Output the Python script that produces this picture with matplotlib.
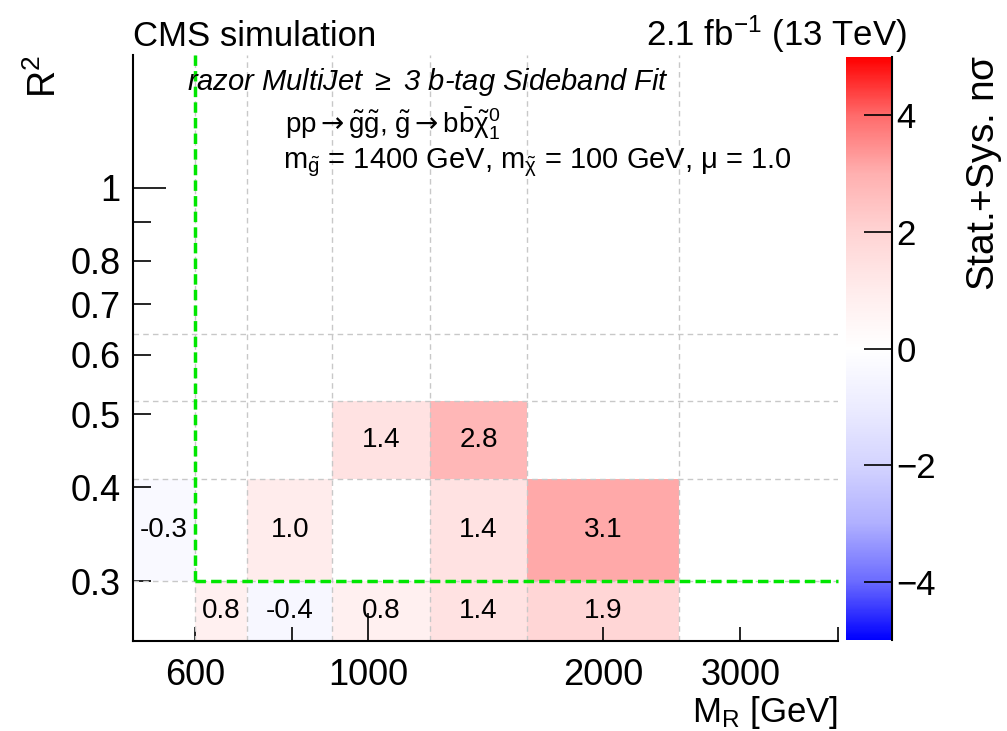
import numpy as np
import matplotlib
matplotlib.use("Agg")
import matplotlib.pyplot as plt
from matplotlib.colors import LinearSegmentedColormap, Normalize
from matplotlib.ticker import FixedLocator, FixedFormatter

plt.rcParams['font.family'] = ['Liberation Sans', 'DejaVu Sans']
plt.rcParams['mathtext.fontset'] = 'custom'
plt.rcParams['mathtext.rm'] = 'Liberation Sans'
plt.rcParams['mathtext.it'] = 'Liberation Sans'
plt.rcParams['mathtext.bf'] = 'Liberation Sans:bold'
plt.rcParams['mathtext.sf'] = 'DejaVu Sans'

# binning
mr_edges = [500, 600, 700, 900, 1200, 1600, 2500, 4000]
r2_edges = [0.25, 0.30, 0.41, 0.52, 0.64, 1.5]

nan = np.nan
# n sigma per bin, one list per R2 row (low to high)
row_r2_025 = [nan, 0.8, -0.4, 0.8, 1.4, 1.9, nan]
row_r2_030 = [-0.3, nan, 1.0, nan, 1.4, 3.1, nan]
row_r2_041 = [nan, nan, nan, 1.4, 2.8, nan, nan]
row_r2_052 = [nan, nan, nan, nan, nan, nan, nan]
row_r2_064 = [nan, nan, nan, nan, nan, nan, nan]

x_ticks = [600, 800, 1000, 2000, 3000, 4000]
x_labels = ['600', '', '1000', '2000', '3000', '']
y_ticks = [0.3, 0.4, 0.5, 0.6, 0.7, 0.8, 0.9]
y_labels = ['0.3', '0.4', '0.5', '0.6', '0.7', '0.8', '']
cb_ticks = [-4, -2, 0, 2, 4]

# sideband boundary
sb_mr = 600
sb_r2 = 0.30

# blue-white-red palette, steeper near the ends
g = [1.0, 0.58, 0.31, 0.17, 0.075, 0.0, 0.075, 0.17, 0.31, 0.58, 1.0]
cols = []
for k, gg in enumerate(g):
    if k < 5:
        cols.append((1 - gg, 1 - gg, 1.0))
    else:
        cols.append((1.0, 1 - gg, 1 - gg))
cmap = LinearSegmentedColormap.from_list('bwr_root', list(zip(np.linspace(0, 1, 11), cols)), N=512)

sigma = np.ma.masked_invalid(np.array([row_r2_025, row_r2_030, row_r2_041,
                                       row_r2_052, row_r2_064]))

fig = plt.figure(figsize=(10.07, 7.31), dpi=100)
ax = fig.add_axes([0.1321, 0.1231, 0.7001, 0.8017])
cax = fig.add_axes([0.8401, 0.1245, 0.0457, 0.7975])

mesh = ax.pcolormesh(mr_edges, r2_edges, sigma, cmap=cmap, norm=Normalize(-5, 5), zorder=1)
ax.set_xscale('log')
ax.set_yscale('log')
ax.set_xlim(mr_edges[0], mr_edges[-1])
ax.set_ylim(r2_edges[0], r2_edges[-1])

# grid on bin edges
for x in mr_edges[1:-1]:
    ax.axvline(x, color='#c8c8c8', lw=1, ls=(0, (4, 3)), zorder=2)
for y in r2_edges[1:-1]:
    ax.axhline(y, color='#c8c8c8', lw=1, ls=(0, (4, 3)), zorder=2)

# bin contents
for i in range(len(r2_edges) - 1):
    for j in range(len(mr_edges) - 1):
        v = sigma[i, j]
        if np.ma.is_masked(v):
            continue
        xc = np.sqrt(mr_edges[j] * mr_edges[j + 1])
        yc = np.sqrt(r2_edges[i] * r2_edges[i + 1])
        ax.text(xc, yc, f'{v:.1f}', ha='center', va='center', fontsize=20, zorder=4)

# sideband lines
ax.plot([sb_mr, sb_mr], [sb_r2, r2_edges[-1]], color='#00e600', lw=2.5, ls=(0, (3, 1.5)), zorder=3, clip_on=False)
ax.plot([sb_mr, mr_edges[-1]], [sb_r2, sb_r2], color='#00e600', lw=2.5, ls=(0, (3, 1.5)), zorder=3, clip_on=False)

# axes style
for s in ['top', 'right']:
    ax.spines[s].set_visible(False)
for s in ['left', 'bottom']:
    ax.spines[s].set_linewidth(1.5)

ax.xaxis.set_major_locator(FixedLocator([1000]))
ax.xaxis.set_major_formatter(FixedFormatter(['1000']))
ax.xaxis.set_minor_locator(FixedLocator([t for t in x_ticks if t != 1000]))
ax.xaxis.set_minor_formatter(FixedFormatter([l for l in x_labels if l != '1000']))
ax.yaxis.set_major_locator(FixedLocator([1.0]))
ax.yaxis.set_major_formatter(FixedFormatter(['1']))
ax.yaxis.set_minor_locator(FixedLocator(y_ticks))
ax.yaxis.set_minor_formatter(FixedFormatter(y_labels))
ax.tick_params(which='both', direction='in', labelsize=26, width=1.2)
ax.tick_params(axis='x', which='major', length=20, pad=12)
ax.tick_params(axis='x', which='minor', length=10, pad=12)
ax.tick_params(axis='y', which='major', length=24, pad=9)
ax.tick_params(axis='y', which='minor', length=13, pad=9)

# colour bar
cb = fig.colorbar(mesh, cax=cax, ticks=cb_ticks)
cb.outline.set_visible(False)
cax.plot([1, 1], [0, 1], transform=cax.transAxes, color='k', lw=1.5, clip_on=False)
cax.tick_params(direction='in', length=20, width=1.2, labelsize=25, pad=3)

# labels
fig.text(133 / 1007, 1 - 46 / 731, 'CMS simulation', fontsize=25, ha='left', va='baseline')
fig.text(907 / 1007, 1 - 46 / 731, r'2.1 fb$^{-1}$ (13 TeV)', fontsize=25, ha='right', va='baseline')
fig.text(187 / 1007, 1 - 82 / 731, r'razor MultiJet $\geq$ 3 b-tag Sideband Fit', fontsize=21,
         style='italic', ha='left', va='center')
fig.text(285 / 1007, 1 - 124 / 731,
         r'pp$\mathsf{\rightarrow}\tilde{g}\tilde{g}$, '
         r'$\tilde{g}\mathsf{\rightarrow}b\bar{b}\tilde{\chi}^{0}_{1}$',
         fontsize=20, ha='left', va='center')
fig.text(283 / 1007, 1 - 163 / 731,
         r'm$_{\tilde{g}}$ = 1400 GeV, m$_{\tilde{\chi}}$ = 100 GeV, $\mu$ = 1.0',
         fontsize=21, ha='left', va='center')
fig.text(45 / 1007, 1 - 55 / 731, r'R$^{2}$', fontsize=27, rotation=90, ha='center', va='top')
fig.text(838 / 1007, 1 - 722 / 731, r'M$_{\rm R}$ [GeV]', fontsize=25, ha='right', va='baseline')
fig.text(985 / 1007, 1 - 55 / 731, r'Stat.+Sys. n$\sigma$', fontsize=28, rotation=90, ha='center', va='top')

fig.savefig('out.png', dpi=100)
